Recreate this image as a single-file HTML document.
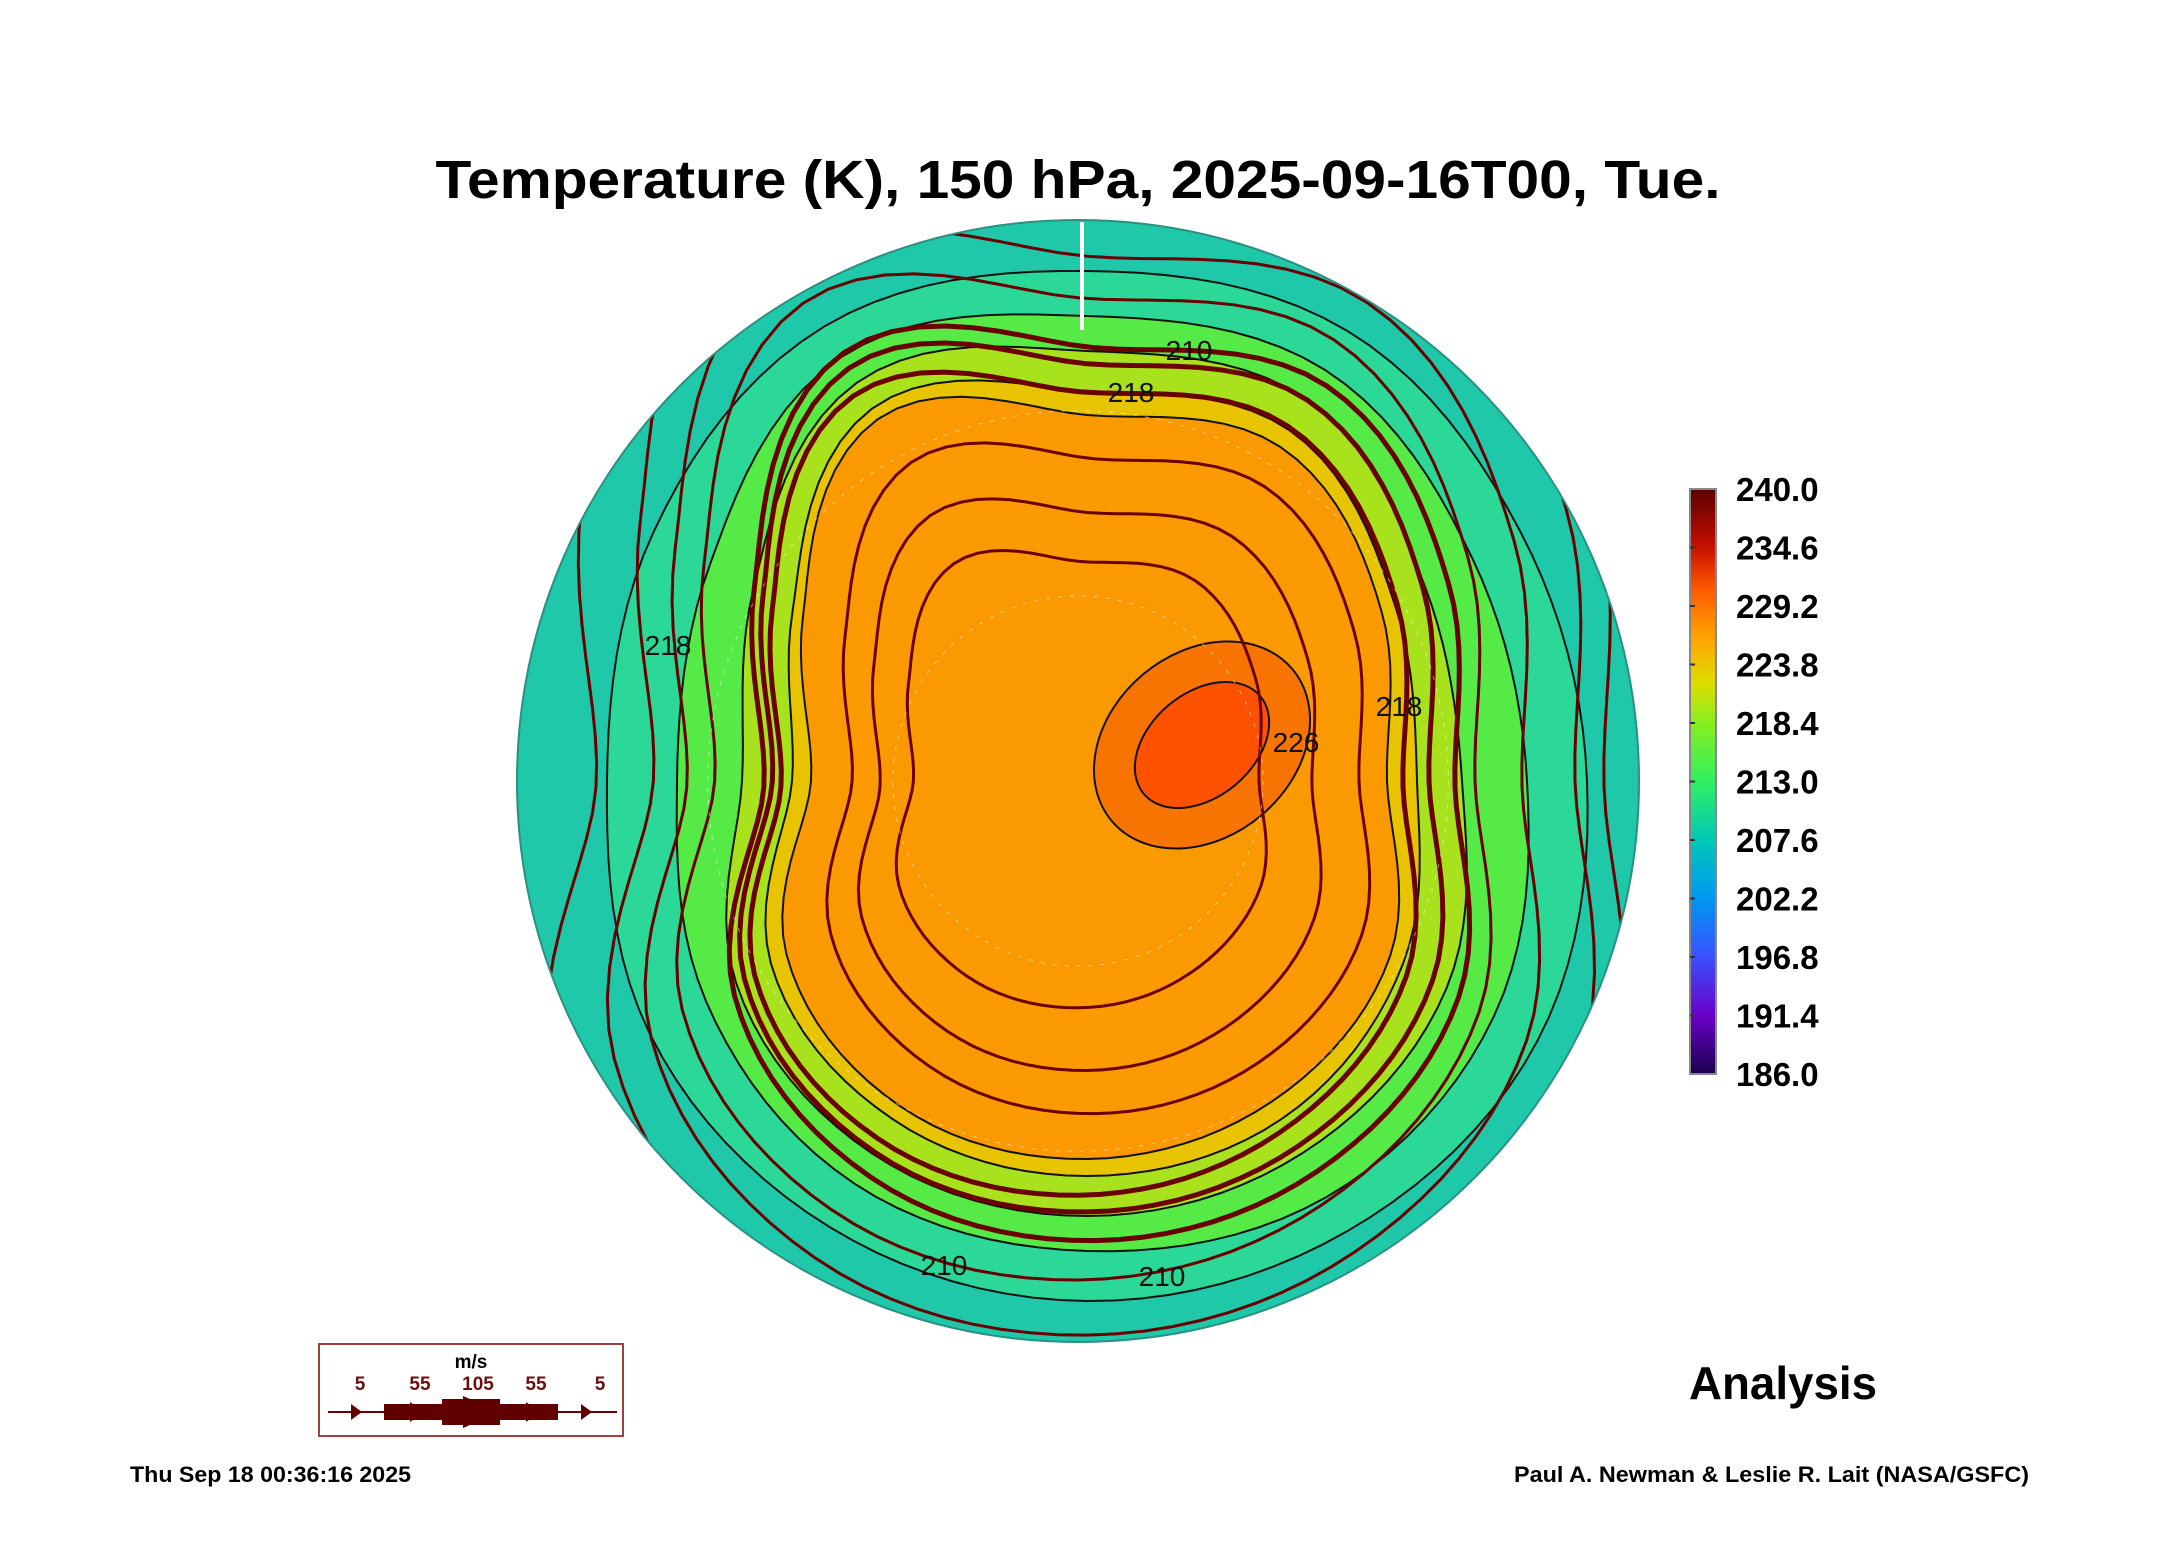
<!DOCTYPE html>
<html><head><meta charset="utf-8">
<style>
html,body{margin:0;padding:0;background:#fff;}
svg{display:block;}
text{font-family:"Liberation Sans",Arial,sans-serif;}
</style></head>
<body>
<svg id="chart" width="2165" height="1561" viewBox="0 0 2165 1561">
  <defs>
    <linearGradient id="cbar" x1="0" y1="1" x2="0" y2="0">
      <stop offset="0" stop-color="#1a0050"/>
      <stop offset="0.1" stop-color="#6a00c8"/>
      <stop offset="0.2" stop-color="#3a50ff"/>
      <stop offset="0.3" stop-color="#0098f0"/>
      <stop offset="0.4" stop-color="#00c8b8"/>
      <stop offset="0.5" stop-color="#30f060"/>
      <stop offset="0.6" stop-color="#88ee20"/>
      <stop offset="0.67" stop-color="#e0dc00"/>
      <stop offset="0.75" stop-color="#ffa000"/>
      <stop offset="0.83" stop-color="#ff5800"/>
      <stop offset="0.9" stop-color="#c81000"/>
      <stop offset="1" stop-color="#5a0000"/>
    </linearGradient>
    <clipPath id="disk"><circle cx="1078" cy="781" r="561"/></clipPath>
  </defs>

  <text x="1078" y="198" text-anchor="middle" font-size="54" font-weight="bold" textLength="1285" lengthAdjust="spacingAndGlyphs">Temperature (K), 150 hPa, 2025-09-16T00, Tue.</text>

  <g id="map" clip-path="url(#disk)">
    <circle cx="1078" cy="781" r="561" fill="#1ec8a8"/>
  </g>
  <line x1="1082" y1="222" x2="1082" y2="330" stroke="#fff" stroke-width="4"/>
  <circle cx="1078" cy="781" r="561" fill="none" stroke="#2a9080" stroke-width="2"/>

  <g id="colorbar">
    <rect x="1690" y="489" width="26" height="585" fill="url(#cbar)" stroke="#888" stroke-width="2"/>
  </g>

  <g>
    <rect x="319" y="1344" width="304" height="92" fill="none" stroke="#a04040" stroke-width="2"/>
    <text x="471" y="1368" text-anchor="middle" font-size="19" font-weight="bold" fill="#000">m/s</text>
    <g id="windlabels" font-size="19" font-weight="bold" fill="#6b1010" text-anchor="middle"></g>
    <line x1="328" y1="1412" x2="617" y2="1412" stroke="#6b0000" stroke-width="2"/>
    <rect x="384" y="1404" width="174" height="16" fill="#600000"/>
    <rect x="442" y="1399" width="58" height="26" fill="#600000"/>
    <path d="M351 1404 L362 1412 L351 1420 Z M410 1402 L424 1412 L410 1422 Z M463 1396 L500 1412 L463 1428 Z M526 1402 L540 1412 L526 1422 Z M581 1404 L592 1412 L581 1420 Z" fill="#600000"/>
  </g>

  <text x="1689" y="1399" font-size="46" font-weight="bold" textLength="188" lengthAdjust="spacingAndGlyphs">Analysis</text>
  <text x="130" y="1482" font-size="22" font-weight="bold" textLength="281" lengthAdjust="spacingAndGlyphs">Thu Sep 18 00:36:16 2025</text>
  <text x="2029" y="1482" text-anchor="end" font-size="22" font-weight="bold" textLength="515" lengthAdjust="spacingAndGlyphs">Paul A. Newman &amp; Leslie R. Lait (NASA/GSFC)</text>
</svg>
<script>
// ---- data ----
const cbTicks = ["240.0","234.6","229.2","223.8","218.4","213.0","207.6","202.2","196.8","191.4","186.0"];
const windLabels = ["5","55","105","55","5"];
const levels = [207, 212, 216, 220, 223];
const levelColors = ["#2bd898","#55ea45","#a8e21c","#e8c400","#fb9a00"];
// contour radii (px from center) at 12 angles, clockwise from east
const r207 = [500,520,520,520,515,505,480,500,525,510,520,500];
const r212 = [440,470,480,470,465,440,410,435,490,465,475,445];
const r216 = [375,415,430,435,430,405,345,385,460,430,440,390];
const r220 = [330,365,390,395,390,365,295,340,430,390,405,355];
const r223 = [300,350,370,378,375,347,276,328,418,366,386,340];
const coreLevels = [226, 229];
const coreRx = [118, 76];
const coreRy = [92, 52];
const coreColors = ["#f87400","#ff5200"];
const contourLabels = ["210","218","218","226","218","210","210"];
const labelX = [1189,1131,668,1296,1399,944,1162];
const labelY = [360,402,655,752,716,1275,1286];

// ---- helpers ----
const NS = "http://www.w3.org/2000/svg";
const CX = 1087, CY = 781;
const mapG = document.getElementById("map");
function rAt(arr, deg){
  const n = arr.length, f = ((deg % 360)+360)%360 / (360/n);
  const i = Math.floor(f), t = f - i;
  const a = arr[(i-1+n)%n], b = arr[i%n], c = arr[(i+1)%n], d = arr[(i+2)%n];
  return 0.5*((2*b)+(-a+c)*t+(2*a-5*b+4*c-d)*t*t+(-a+3*b-3*c+d)*t*t*t);
}
function ringPath(arr, scale, dx, dy){
  let d = "";
  for(let k=0;k<=360;k+=3){
    const r = rAt(arr,k)*scale, a = k*Math.PI/180;
    d += (k?"L":"M") + (CX+dx+r*Math.cos(a)).toFixed(1) + " " + (CY+dy+r*Math.sin(a)).toFixed(1);
  }
  return d + "Z";
}
const radiiByLevel = {207:r207,212:r212,216:r216,220:r220,223:r223};

levels.forEach((lv,i)=>{
  const p = document.createElementNS(NS,"path");
  p.setAttribute("d", ringPath(radiiByLevel[lv],1,0,0));
  p.setAttribute("fill", levelColors[i]);
  p.setAttribute("stroke","#111");
  p.setAttribute("stroke-width","2");
  
  
  mapG.appendChild(p);
});
coreLevels.forEach((lv,i)=>{
  const e = document.createElementNS(NS,"ellipse");
  e.setAttribute("cx", 1202); e.setAttribute("cy", 745);
  e.setAttribute("rx", coreRx[i]); e.setAttribute("ry", coreRy[i]);
  e.setAttribute("transform","rotate(-40 1202 745)");
  e.setAttribute("fill", coreColors[i]);
  e.setAttribute("stroke","#111"); e.setAttribute("stroke-width","2");
  
  
  mapG.appendChild(e);
});
const streamScales = [0.6,0.75,0.88,1.08,1.14,1.2,1.32,1.45,1.6,1.75];
streamScales.forEach((s,i)=>{
  const p = document.createElementNS(NS,"path");
  p.setAttribute("d", ringPath(r223, s, (i%3-1)*8, (i%2)*6));
  p.setAttribute("fill","none");
  p.setAttribute("stroke","#6b0000");
  p.setAttribute("stroke-width", s>1 && s<1.25 ? "5" : "3");
  
  
  mapG.appendChild(p);
});
[0.33,0.66].forEach(f=>{
  const c = document.createElementNS(NS,"circle");
  c.setAttribute("cx",1078); c.setAttribute("cy",781); c.setAttribute("r",561*f);
  c.setAttribute("fill","none"); c.setAttribute("stroke","#fff"); c.setAttribute("stroke-opacity","0.5");
  c.setAttribute("stroke-dasharray","4 8");
  
  
  mapG.appendChild(c);
});
contourLabels.forEach((t,i)=>{
  const tx = document.createElementNS(NS,"text");
  tx.setAttribute("x", labelX[i]); tx.setAttribute("y", labelY[i]);
  tx.setAttribute("font-size","28"); tx.setAttribute("text-anchor","middle");
  tx.setAttribute("fill","#111");
  tx.textContent = t;
  
  
  mapG.appendChild(tx);
});
const cb = document.getElementById("colorbar");
const cbTop = 489, cbBot = 1074;
cbTicks.forEach((t,i)=>{
  const y = cbTop + (cbBot-cbTop)*i/(cbTicks.length-1);
  const tx = document.createElementNS(NS,"text");
  tx.setAttribute("x",1736); tx.setAttribute("y",(y+12).toFixed(1));
  tx.setAttribute("font-size","33"); tx.setAttribute("font-weight","bold");
  tx.textContent = t;
  
  
  cb.appendChild(tx);
  if(i>0 && i<cbTicks.length-1){
    const l = document.createElementNS(NS,"line");
    l.setAttribute("x1",1690); l.setAttribute("x2",1695);
    l.setAttribute("y1",y); l.setAttribute("y2",y);
    l.setAttribute("stroke","#333"); l.setAttribute("stroke-width","2");
    
    
    cb.appendChild(l);
  }
});
const wl = document.getElementById("windlabels");
const wlX = [360, 420, 478, 536, 600];
windLabels.forEach((t,i)=>{
  const tx = document.createElementNS(NS,"text");
  tx.setAttribute("x", wlX[i]); tx.setAttribute("y", 1390);
  tx.textContent = t;
  
  
  wl.appendChild(tx);
});
</script>
</body></html>
